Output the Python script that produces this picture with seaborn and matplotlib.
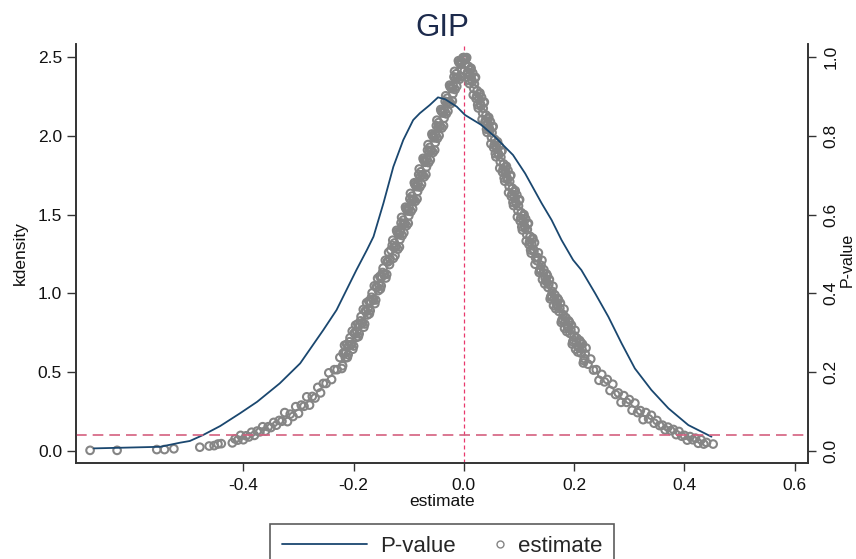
import seaborn as sns
import pandas as pd
from matplotlib import pyplot as plt
from matplotlib.lines import Line2D
from matplotlib.legend_handler import HandlerLine2D

# kernel density of the estimates (left axis)
kd_est = [-0.671, -0.551, -0.515, -0.497, -0.473, -0.442, -0.406, -0.375, -0.334, -0.297,
          -0.255, -0.231, -0.213, -0.195, -0.176, -0.164, -0.146, -0.128, -0.110, -0.092,
          -0.080, -0.062, -0.047, -0.034, -0.013, 0.002, 0.032, 0.056, 0.089, 0.111,
          0.141, 0.159, 0.177, 0.198, 0.213, 0.238, 0.262, 0.286, 0.310, 0.340,
          0.371, 0.407, 0.449]
kd_val = [0.015, 0.025, 0.051, 0.062, 0.100, 0.157, 0.238, 0.311, 0.428, 0.555,
          0.767, 0.894, 1.021, 1.148, 1.275, 1.360, 1.572, 1.804, 1.974, 2.101,
          2.144, 2.196, 2.245, 2.233, 2.186, 2.133, 2.069, 1.995, 1.879, 1.762,
          1.572, 1.466, 1.339, 1.212, 1.148, 1.000, 0.851, 0.682, 0.523, 0.386,
          0.269, 0.163, 0.089]

# estimate / p-value pairs (right axis), read off the band of circles
est_peak = [0.0, -0.001, 0.001]
pval_peak = [0.999, 0.996, 0.995]

est_left_steep = [-0.002, -0.004, -0.006, -0.008, -0.010, -0.012, -0.014, -0.016, -0.018, -0.020,
                  -0.022, -0.024, -0.026, -0.028, -0.030, -0.032, -0.034, -0.036, -0.038, -0.040,
                  -0.042, -0.044, -0.046, -0.048, -0.050, -0.052, -0.054, -0.056, -0.058, -0.060,
                  -0.062, -0.064, -0.066, -0.068, -0.070, -0.072, -0.074, -0.076, -0.078, -0.080,
                  -0.082, -0.084, -0.086, -0.088, -0.090, -0.092, -0.094, -0.096, -0.098, -0.100,
                  -0.102, -0.104, -0.106, -0.108, -0.110, -0.112, -0.114, -0.116, -0.118, -0.120,
                  -0.122, -0.124, -0.126, -0.128, -0.130]
pval_left_steep = [0.998, 0.969, 0.982, 0.944, 0.991, 0.948, 0.958, 0.918, 0.950, 0.907,
                   0.920, 0.882, 0.929, 0.886, 0.896, 0.856, 0.888, 0.845, 0.858, 0.820,
                   0.867, 0.824, 0.834, 0.794, 0.826, 0.783, 0.795, 0.758, 0.805, 0.762,
                   0.771, 0.732, 0.764, 0.721, 0.733, 0.696, 0.743, 0.700, 0.709, 0.670,
                   0.702, 0.659, 0.671, 0.634, 0.681, 0.638, 0.647, 0.608, 0.640, 0.597,
                   0.609, 0.572, 0.619, 0.577, 0.586, 0.547, 0.579, 0.537, 0.549, 0.512,
                   0.560, 0.518, 0.528, 0.489, 0.522]
est_left_core = [-0.003, -0.007, -0.011, -0.015, -0.019, -0.023, -0.027, -0.031, -0.035, -0.039,
                 -0.043, -0.047, -0.051, -0.055, -0.059, -0.063, -0.067, -0.071, -0.075, -0.079,
                 -0.083, -0.087, -0.091, -0.095, -0.099, -0.103, -0.107, -0.111, -0.115, -0.119,
                 -0.123, -0.127, -0.134, -0.139, -0.144, -0.149, -0.154, -0.159, -0.164, -0.169,
                 -0.174, -0.179, -0.184, -0.189, -0.194, -0.199, -0.204, -0.209, -0.214, -0.219]
pval_left_core = [0.988, 0.985, 0.949, 0.946, 0.926, 0.923, 0.887, 0.884, 0.864, 0.861,
                  0.825, 0.822, 0.802, 0.799, 0.763, 0.760, 0.740, 0.737, 0.701, 0.697,
                  0.678, 0.674, 0.639, 0.635, 0.616, 0.613, 0.578, 0.574, 0.556, 0.553,
                  0.519, 0.517, 0.488, 0.481, 0.449, 0.442, 0.422, 0.416, 0.385, 0.379,
                  0.360, 0.355, 0.325, 0.320, 0.302, 0.299, 0.270, 0.267, 0.250, 0.248]
est_left_edge = [-0.001, -0.005, -0.009, -0.013, -0.017, -0.021, -0.025, -0.029, -0.033, -0.037,
                 -0.041, -0.045, -0.049, -0.053, -0.057, -0.061, -0.065, -0.069, -0.073, -0.077,
                 -0.081, -0.085, -0.089, -0.093, -0.097, -0.101, -0.105, -0.109, -0.113, -0.117,
                 -0.121, -0.125, -0.129, -0.1365, -0.1415, -0.1465, -0.1515, -0.1565, -0.1615, -0.1665,
                 -0.1715, -0.1765, -0.1815, -0.1865, -0.1915, -0.1965, -0.2015, -0.2065, -0.2115, -0.2165,
                 -0.2215]
pval_left_edge = [0.999, 0.951, 0.987, 0.926, 0.964, 0.889, 0.925, 0.863, 0.902, 0.826,
                  0.863, 0.801, 0.840, 0.764, 0.801, 0.739, 0.778, 0.702, 0.739, 0.677,
                  0.716, 0.640, 0.677, 0.615, 0.654, 0.578, 0.615, 0.554, 0.593, 0.518,
                  0.556, 0.496, 0.535, 0.504, 0.439, 0.464, 0.411, 0.438, 0.374, 0.401,
                  0.348, 0.376, 0.314, 0.341, 0.290, 0.319, 0.258, 0.287, 0.237, 0.268,
                  0.209]

est_left_mid = [-0.1325, -0.135, -0.1375, -0.140, -0.1425, -0.145, -0.1475, -0.150, -0.1525, -0.155,
                -0.1575, -0.160, -0.1625, -0.165, -0.1675, -0.170, -0.1725, -0.175, -0.1775, -0.180,
                -0.1825, -0.185, -0.1875, -0.190, -0.1925, -0.195, -0.1975, -0.200, -0.2025, -0.205,
                -0.2075, -0.210, -0.2125, -0.215, -0.2175, -0.220]
pval_left_mid = [0.510, 0.473, 0.480, 0.448, 0.484, 0.448, 0.453, 0.419, 0.443, 0.407,
                 0.415, 0.383, 0.419, 0.384, 0.390, 0.356, 0.380, 0.345, 0.354, 0.322,
                 0.359, 0.324, 0.330, 0.297, 0.322, 0.288, 0.297, 0.266, 0.304, 0.269,
                 0.277, 0.244, 0.270, 0.236, 0.246, 0.216]

est_left_tail = [-0.225, -0.230, -0.235, -0.240, -0.245, -0.250, -0.255, -0.260, -0.265, -0.270,
                 -0.275, -0.280, -0.285, -0.290, -0.295, -0.300, -0.305, -0.310, -0.315, -0.320,
                 -0.325, -0.330, -0.335, -0.340, -0.345, -0.350, -0.355, -0.360, -0.365, -0.370,
                 -0.375, -0.380, -0.385, -0.390, -0.395, -0.400, -0.405, -0.410, -0.415, -0.420,
                 -0.440, -0.446, -0.453, -0.462, -0.479, -0.526, -0.543, -0.557, -0.629, -0.678]
pval_left_tail = [0.237, 0.206, 0.206, 0.181, 0.198, 0.171, 0.171, 0.147, 0.161, 0.134,
                  0.138, 0.116, 0.137, 0.113, 0.116, 0.095, 0.112, 0.087, 0.093, 0.074,
                  0.097, 0.075, 0.077, 0.065, 0.072, 0.059, 0.061, 0.050, 0.061, 0.048,
                  0.050, 0.039, 0.047, 0.035, 0.038, 0.028, 0.039, 0.027, 0.030, 0.020,
                  0.018, 0.017, 0.013, 0.012, 0.009, 0.005, 0.003, 0.003, 0.001, 0.001]

est_right_steep = [0.002, 0.004, 0.006, 0.008, 0.010, 0.012, 0.014, 0.016, 0.018, 0.020,
                   0.022, 0.024, 0.026, 0.028, 0.030, 0.032, 0.034, 0.036, 0.038, 0.040,
                   0.042, 0.044, 0.046, 0.048, 0.050, 0.052, 0.054, 0.056, 0.058, 0.060,
                   0.062, 0.064, 0.066, 0.068, 0.070, 0.072, 0.074, 0.076, 0.078, 0.080,
                   0.082, 0.084, 0.086, 0.088, 0.090, 0.092, 0.094, 0.096, 0.098, 0.100,
                   0.102, 0.104, 0.106, 0.108, 0.110, 0.112, 0.114, 0.116, 0.118, 0.120,
                   0.122, 0.124, 0.126, 0.128, 0.130]
pval_right_steep = [0.982, 0.998, 0.957, 0.977, 0.933, 0.968, 0.943, 0.960, 0.920, 0.947,
                    0.895, 0.915, 0.871, 0.906, 0.881, 0.898, 0.858, 0.885, 0.833, 0.853,
                    0.809, 0.844, 0.819, 0.836, 0.796, 0.823, 0.770, 0.791, 0.747, 0.782,
                    0.756, 0.774, 0.734, 0.761, 0.708, 0.729, 0.685, 0.720, 0.694, 0.712,
                    0.672, 0.699, 0.646, 0.667, 0.623, 0.658, 0.632, 0.650, 0.610, 0.637,
                    0.584, 0.605, 0.561, 0.597, 0.571, 0.589, 0.549, 0.577, 0.524, 0.545,
                    0.502, 0.537, 0.512, 0.529, 0.490]
est_right_core = [0.003, 0.007, 0.011, 0.015, 0.019, 0.023, 0.027, 0.031, 0.035, 0.039,
                  0.043, 0.047, 0.051, 0.055, 0.059, 0.063, 0.067, 0.071, 0.075, 0.079,
                  0.083, 0.087, 0.091, 0.095, 0.099, 0.103, 0.107, 0.111, 0.115, 0.119,
                  0.123, 0.127, 0.134, 0.139, 0.144, 0.149, 0.154, 0.159, 0.164, 0.169,
                  0.174, 0.179, 0.184, 0.189, 0.194, 0.199, 0.204, 0.209, 0.214, 0.219]
pval_right_core = [0.994, 0.963, 0.957, 0.938, 0.932, 0.901, 0.895, 0.876, 0.870, 0.839,
                   0.833, 0.814, 0.808, 0.777, 0.771, 0.752, 0.746, 0.715, 0.709, 0.689,
                   0.684, 0.652, 0.647, 0.627, 0.622, 0.591, 0.586, 0.566, 0.562, 0.531,
                   0.526, 0.507, 0.491, 0.461, 0.452, 0.431, 0.423, 0.394, 0.387, 0.369,
                   0.362, 0.335, 0.329, 0.312, 0.307, 0.281, 0.276, 0.261, 0.258, 0.234]
est_right_edge = [0.001, 0.005, 0.009, 0.013, 0.017, 0.021, 0.025, 0.029, 0.033, 0.037,
                  0.041, 0.045, 0.049, 0.053, 0.057, 0.061, 0.065, 0.069, 0.073, 0.077,
                  0.081, 0.085, 0.089, 0.093, 0.097, 0.101, 0.105, 0.109, 0.113, 0.117,
                  0.121, 0.125, 0.129, 0.1365, 0.1415, 0.1465, 0.1515, 0.1565, 0.1615, 0.1665,
                  0.1715, 0.1765, 0.1815, 0.1865, 0.1915, 0.1965, 0.2015, 0.2065, 0.2115, 0.2165,
                  0.2215]
pval_right_edge = [0.966, 0.999, 0.941, 0.972, 0.904, 0.949, 0.879, 0.909, 0.842, 0.886,
                   0.817, 0.847, 0.780, 0.824, 0.755, 0.785, 0.718, 0.762, 0.693, 0.723,
                   0.656, 0.700, 0.631, 0.661, 0.594, 0.638, 0.569, 0.600, 0.533, 0.578,
                   0.510, 0.540, 0.474, 0.453, 0.484, 0.424, 0.444, 0.386, 0.418, 0.361,
                   0.383, 0.326, 0.360, 0.303, 0.326, 0.271, 0.306, 0.251, 0.276, 0.223,
                   0.261]

est_right_mid = [0.1325, 0.135, 0.1375, 0.140, 0.1425, 0.145, 0.1475, 0.150, 0.1525, 0.155,
                 0.1575, 0.160, 0.1625, 0.165, 0.1675, 0.170, 0.1725, 0.175, 0.1775, 0.180,
                 0.1825, 0.185, 0.1875, 0.190, 0.1925, 0.195, 0.1975, 0.200, 0.2025, 0.205,
                 0.2075, 0.210, 0.2125, 0.215, 0.2175, 0.220]
pval_right_mid = [0.483, 0.503, 0.458, 0.471, 0.435, 0.460, 0.438, 0.449, 0.415, 0.435,
                  0.391, 0.405, 0.369, 0.396, 0.374, 0.387, 0.354, 0.375, 0.331, 0.346,
                  0.311, 0.338, 0.317, 0.330, 0.298, 0.319, 0.277, 0.292, 0.258, 0.286,
                  0.266, 0.280, 0.248, 0.271, 0.229, 0.246]

est_right_tail = [0.225, 0.230, 0.235, 0.240, 0.245, 0.250, 0.255, 0.260, 0.265, 0.270,
                  0.275, 0.280, 0.285, 0.290, 0.295, 0.300, 0.305, 0.310, 0.315, 0.320,
                  0.325, 0.330, 0.335, 0.340, 0.345, 0.350, 0.355, 0.360, 0.365, 0.370,
                  0.375, 0.380, 0.385, 0.390, 0.395, 0.400, 0.405, 0.410, 0.415, 0.420,
                  0.425, 0.430, 0.435, 0.440, 0.452]
pval_right_tail = [0.220, 0.233, 0.205, 0.206, 0.179, 0.194, 0.175, 0.181, 0.153, 0.169,
                   0.143, 0.147, 0.123, 0.140, 0.123, 0.130, 0.103, 0.121, 0.097, 0.102,
                   0.079, 0.097, 0.081, 0.090, 0.070, 0.077, 0.064, 0.065, 0.053, 0.060,
                   0.051, 0.054, 0.041, 0.049, 0.037, 0.039, 0.027, 0.036, 0.028, 0.032,
                   0.019, 0.028, 0.017, 0.021, 0.017]

x_ticks = [-0.4, -0.2, 0.0, 0.2, 0.4, 0.6]
kd_ticks = [0.0, 0.5, 1.0, 1.5, 2.0, 2.5]
p_ticks = [0.0, 0.2, 0.4, 0.6, 0.8, 1.0]
kd_cut = 0.1

navy = '#1a476f'
grey = '#858585'

sns.set_style('ticks')
plt.rcParams['font.family'] = ['Liberation Sans', 'DejaVu Sans']

points = pd.DataFrame({
    'estimate': est_peak + est_left_steep + est_left_core + est_left_edge + est_left_mid
                + est_left_tail + est_right_steep + est_right_core + est_right_edge
                + est_right_mid + est_right_tail,
    'pvalue': pval_peak + pval_left_steep + pval_left_core + pval_left_edge + pval_left_mid
              + pval_left_tail + pval_right_steep + pval_right_core + pval_right_edge
              + pval_right_mid + pval_right_tail,
})
kd = pd.DataFrame({'estimate': kd_est, 'kdensity': kd_val})

fig, ax = plt.subplots(figsize=(8.56, 5.59), dpi=100)
fig.subplots_adjust(left=0.0888, right=0.9439, bottom=0.1717, top=0.9213)
ax2 = ax.twinx()

ax2.axvline(0, color='#e8386d', lw=0.9, ls=(0, (3.2, 2.4)), zorder=1)
sns.scatterplot(data=points, x='estimate', y='pvalue', ax=ax2, s=30, marker='o',
                facecolor='none', edgecolor=grey, linewidth=1.5, legend=False, zorder=2)

sns.lineplot(data=kd, x='estimate', y='kdensity', ax=ax, color=navy, lw=1.3,
             sort=False, estimator=None)
ax.axhline(kd_cut, color='#d4607f', lw=1.2, ls=(0, (6.4, 3.6)))

# line axis on top of the scatter axis
ax.set_zorder(ax2.get_zorder() + 1)
ax.patch.set_visible(False)

ax.set_xlim(-0.7035, 0.624)
ax.set_ylim(-0.078, 2.584)
ax2.set_ylim(-0.0312, 1.0336)
ax.set_xticks(x_ticks)
ax.set_xticklabels([f'{t:.1f}' for t in x_ticks])
ax.set_yticks(kd_ticks)
ax.set_yticklabels([f'{t:.1f}' for t in kd_ticks])
ax2.set_yticks(p_ticks)
ax2.set_yticklabels([f'{t:.1f}' for t in p_ticks])

edge = '#333333'
for a in (ax, ax2):
    a.spines['top'].set_visible(False)
    for s in ('left', 'right', 'bottom'):
        a.spines[s].set_color(edge)
        a.spines[s].set_linewidth(1.2)
ax.tick_params(axis='x', length=6, width=1.0, color=edge, labelsize=12.5, pad=5, labelcolor='#111111')
ax.tick_params(axis='y', length=6.5, width=1.0, color=edge, labelsize=12.5, pad=3.5, labelcolor='#111111')
ax2.tick_params(axis='y', length=6, width=1.0, color=edge, labelsize=12.5, pad=5,
                labelrotation=90, labelcolor='#111111')
for lab in ax2.get_yticklabels():
    lab.set_va('center')

ax.set_title('GIP', fontsize=22.5, color='#1c2a4c', pad=6)
ax.set_xlabel('estimate', fontsize=12.5, color='#111111')
ax.set_ylabel('kdensity', fontsize=12.5, color='#111111')
ax2.set_ylabel('P-value', fontsize=11.5, color='#111111', rotation=90)
ax.xaxis.set_label_coords(0.5, -0.074)
ax.yaxis.set_label_coords(-0.066, 0.5)
ax2.yaxis.set_label_coords(1.044, 0.4845)

line_h = Line2D([], [], color=navy, lw=1.3)
mark_h = Line2D([], [], ls='none', marker='o', mfc='none', mec=grey, ms=5, mew=1.0)
leg = ax.legend([line_h, mark_h], ['P-value', 'estimate'], ncol=2, loc='upper center',
                bbox_to_anchor=(0.5, -0.1456), borderaxespad=0, fontsize=16,
                handlelength=3.83, handletextpad=0.59, columnspacing=-1.62, borderpad=0.55,
                fancybox=False, frameon=True,
                handler_map={mark_h: HandlerLine2D(numpoints=1, xpad=3.38)})
leg.get_frame().set_edgecolor(edge)
leg.get_frame().set_linewidth(1.2)

fig.savefig('out.png', dpi=100)
